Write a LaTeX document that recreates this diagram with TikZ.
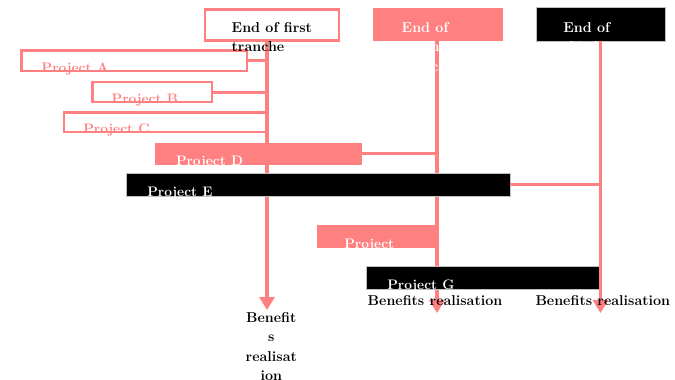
\documentclass[tikz,border=0pt]{standalone}
\usetikzlibrary{arrows.meta}
\definecolor{pk}{RGB}{255,128,128}
\begin{document}
\begin{tikzpicture}[x=1pt,y=-1pt,
  lbl/.style={font=\fontsize{14.3}{19.5}\selectfont\bfseries, inner sep=0pt, outer sep=0pt, anchor=base west, align=left},
  plbl/.style={font=\fontsize{13.8}{19.5}\selectfont\bfseries, inner sep=0pt, outer sep=0pt, anchor=base west, align=left},
  blbl/.style={font=\fontsize{14.3}{19.5}\selectfont\bfseries, inner sep=0pt, outer sep=0pt, anchor=base, align=center},
  obox/.style={draw=pk, line width=2.5pt, inner sep=0pt, outer sep=0pt, anchor=north west},
  pbox/.style={fill=pk, inner sep=0pt, outer sep=0pt, anchor=north west},
  bbox/.style={fill=black, draw=gray!50, line width=0.5pt, inner sep=0pt, outer sep=0pt, anchor=north west},
  vline/.style={draw=pk, line width=3.5pt, -{Triangle[width=15pt,length=13pt]}},
  conn/.style={draw=pk, line width=3pt}]
\useasboundingbox (0,0) rectangle (675,380);
\coordinate (e1) at (267,310);
\coordinate (e2) at (437,313);
\coordinate (e3) at (600.5,313);
% milestone boxes 1 and 2
\node[obox, minimum width=134pt, minimum height=31pt] (t1) at (205,9.5) {};
\node[pbox, minimum width=130pt, minimum height=33pt] (t2) at (373,7.5) {};
% vertical lines 1 and 2
\draw[vline] (t1.south -| e1) -- (e1);
\draw[vline] (t2.south -| e2) -- (e2);
% outline projects
\node[obox, minimum width=225.5pt, minimum height=20.5pt] (pA) at (21.5,50.5) {};
\node[obox, minimum width=119.5pt, minimum height=20pt] (pB) at (92.5,82) {};
\node[obox, minimum width=203pt, minimum height=19.5pt] (pC) at (64,112.5) {};
\draw[conn] (pA.east) -- (pA.east -| e1);
\draw[conn] (pB.east) -- (pB.east -| e1);
\node[plbl, text=pk] (lA) at (41.7,72.5) {Project A};
\node[plbl, text=pk] (lB) at (111.7,103) {Project B};
\node[plbl, text=pk] (lC) at (83.3,133) {Project C};
% milestone texts 1 and 2 (base = last line)
\node[lbl, text=black] (x1) at (231.7,51.9) {End of first\\tranche};
\node[lbl, text=white] (x2) at (401.7,71.4) {End of\\second\\tranche};
% filled projects
\node[pbox, minimum width=206.5pt, minimum height=22.5pt] (pD) at (155,142.5) {};
\draw[conn] (pD.east) -- (pD.east -| e2);
\node[plbl, text=white] (lD) at (176,165.4) {Project D};
\node[bbox, minimum width=384pt, minimum height=23pt] (pE) at (126,173) {};
\node[plbl, text=white] (lE) at (147.3,196.3) {Project E};
\node[pbox, minimum width=120pt, minimum height=22.5pt] (pF) at (317,225) {};
\node[plbl, text=white] (lF) at (344.3,268.2) {Project\\F};
\node[bbox, minimum width=233pt, minimum height=23pt] (pG) at (366,266) {};
\node[plbl, text=white] (lG) at (387.3,289.5) {Project G};
% milestone 3
\node[bbox, minimum width=129.5pt, minimum height=33.5pt] (t3) at (536,7.5) {};
\node[lbl, text=white] (x3) at (563.3,71.4) {End of\\third\\tranche};
\draw[vline] (t3.south -| e3) -- (e3);
\draw[conn] (pE.east) -- (pE.east -| e3);
% benefits labels
\node[blbl] (b1) at (271.3,380.5) {Benefit\\s\\realisat\\ion};
\node[blbl] (b2) at (435,305.7) {Benefits realisation};
\node[blbl] (b3) at (602.8,305.7) {Benefits realisation};
\end{tikzpicture}
\end{document}
